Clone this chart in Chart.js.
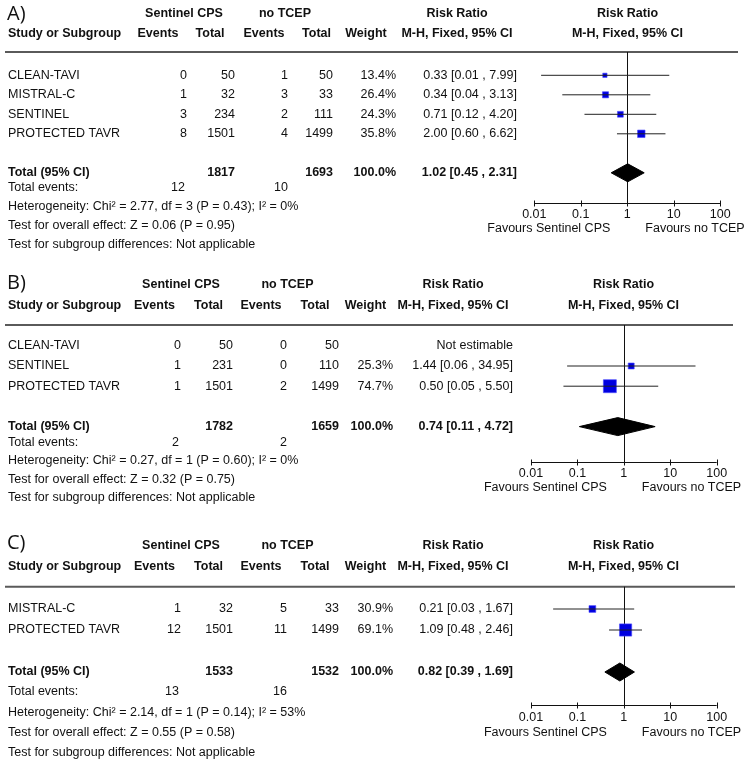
<!DOCTYPE html>
<html>
<head>
<meta charset="utf-8">
<title>Forest plots</title>
<script src="https://cdn.jsdelivr.net/npm/chart.js@4.4.1/dist/chart.umd.min.js"></script>
<style>
  body { margin: 0; background: #fff; }
  #wrap { position: relative; width: 745px; height: 764px; }
  canvas { position: absolute; left: 0; }
</style>
</head>
<body>
<div id="wrap">
  <canvas id="panel-a" width="745" height="258" style="top:0px"></canvas>
  <canvas id="panel-b" width="745" height="257" style="top:258px"></canvas>
  <canvas id="panel-c" width="745" height="249" style="top:515px"></canvas>
</div>
<script>
/* shared labels */
const groupHeads = ['Sentinel CPS', 'no TCEP'];
const colHeads = ['Study or Subgroup', 'Events', 'Total', 'Events', 'Total', 'Weight'];
const rrHeads = ['Risk Ratio', 'M-H, Fixed, 95% CI'];
const tickVals = [0.01, 0.1, 1, 10, 100];
const tickLabels = ['0.01', '0.1', '1', '10', '100'];
const favours = ['Favours Sentinel CPS', 'Favours no TCEP'];

/* panel A */
const studiesA = ['CLEAN-TAVI', 'MISTRAL-C', 'SENTINEL', 'PROTECTED TAVR'];
const evSentA = [0, 1, 3, 8];
const totSentA = [50, 32, 234, 1501];
const evNoA = [1, 3, 2, 4];
const totNoA = [50, 33, 111, 1499];
const weightA = [13.4, 26.4, 24.3, 35.8];
const rrA = [0.33, 0.34, 0.71, 2.00];
const loA = [0.014, 0.04, 0.12, 0.60];
const hiA = [7.99, 3.13, 4.20, 6.62];
const pooledA = [1.02, 0.45, 2.31];
const sumTotA = [1817, 1693];
const sumEvA = [12, 10];
const statsA = ['Heterogeneity: Chi² = 2.77, df = 3 (P = 0.43); I² = 0%',
                'Test for overall effect: Z = 0.06 (P = 0.95)',
                'Test for subgroup differences: Not applicable'];

/* panel B */
const studiesB = ['CLEAN-TAVI', 'SENTINEL', 'PROTECTED TAVR'];
const evSentB = [0, 1, 1];
const totSentB = [50, 231, 1501];
const evNoB = [0, 0, 2];
const totNoB = [50, 110, 1499];
const weightB = [null, 25.3, 74.7];
const rrB = [null, 1.44, 0.50];
const loB = [null, 0.06, 0.05];
const hiB = [null, 34.95, 5.50];
const pooledB = [0.74, 0.11, 4.72];
const sumTotB = [1782, 1659];
const sumEvB = [2, 2];
const statsB = ['Heterogeneity: Chi² = 0.27, df = 1 (P = 0.60); I² = 0%',
                'Test for overall effect: Z = 0.32 (P = 0.75)',
                'Test for subgroup differences: Not applicable'];

/* panel C */
const studiesC = ['MISTRAL-C', 'PROTECTED TAVR'];
const evSentC = [1, 12];
const totSentC = [32, 1501];
const evNoC = [5, 11];
const totNoC = [33, 1499];
const weightC = [30.9, 69.1];
const rrC = [0.21, 1.09];
const loC = [0.03, 0.48];
const hiC = [1.67, 2.46];
const pooledC = [0.82, 0.39, 1.69];
const sumTotC = [1533, 1532];
const sumEvC = [13, 16];
const statsC = ['Heterogeneity: Chi² = 2.14, df = 1 (P = 0.14); I² = 53%',
                'Test for overall effect: Z = 0.55 (P = 0.58)',
                'Test for subgroup differences: Not applicable'];

const FONT = '"Liberation Sans", Arial, sans-serif';
const FS = 12.5;

// page geometry for each panel (y values are page coordinates)
const colsA = { name: 8, ev1: 187, tot1: 235, ev2: 288, tot2: 333, wt: 396, rr: 517 };
const hdrA = { sent: 184, no: 285, ev1: 158, tot1: 210, ev2: 264, tot2: 316.5, wt: 366, rr: 457, plot: 627.5 };
const colsBC = { name: 8, ev1: 181, tot1: 233, ev2: 287, tot2: 339, wt: 393, rr: 513 };
const hdrBC = { sent: 181, no: 287.5, ev1: 154.5, tot1: 208.5, ev2: 261, tot2: 315, wt: 365.5, rr: 453, plot: 623.5 };

const panels = [
  { id: 'panel-a', label: 'A)', studies: studiesA, evSent: evSentA, totSent: totSentA, evNo: evNoA, totNo: totNoA,
    weight: weightA, rr: rrA, lo: loA, hi: hiA, pooled: pooledA, sumTot: sumTotA, sumEv: sumEvA, stats: statsA,
    g: { top: 0, h: 258, labelY: 14, head1: 13.5, head2: 33.5, sep: 52, sepR: 738, row0: 75.3, step: 19.5,
         foot0: 188, footStep: 19, axis: 202.7, x0: 534.3, x1: 720.3, tickDy: 12, favDy: 25.5, cols: colsA, hdr: hdrA } },
  { id: 'panel-b', label: 'B)', studies: studiesB, evSent: evSentB, totSent: totSentB, evNo: evNoB, totNo: totNoB,
    weight: weightB, rr: rrB, lo: loB, hi: hiB, pooled: pooledB, sumTot: sumTotB, sumEv: sumEvB, stats: statsB,
    g: { top: 258, h: 257, labelY: 283, head1: 285, head2: 305.7, sep: 325, sepR: 733, row0: 345.8, step: 20.2,
         foot0: 442.5, footStep: 18.3, axis: 461.7, x0: 531, x1: 716.7, tickDy: 11.5, favDy: 25.5, cols: colsBC, hdr: hdrBC } },
  { id: 'panel-c', label: 'C)', studies: studiesC, evSent: evSentC, totSent: totSentC, evNo: evNoC, totNo: totNoC,
    weight: weightC, rr: rrC, lo: loC, hi: hiC, pooled: pooledC, sumTot: sumTotC, sumEv: sumEvC, stats: statsC,
    g: { top: 515, h: 249, labelY: 543, head1: 545.7, head2: 566.7, sep: 586.7, sepR: 735, row0: 609, step: 21,
         foot0: 692, footStep: 20.3, axis: 705, x0: 531, x1: 716.7, tickDy: 13, favDy: 27.5, cols: colsBC, hdr: hdrBC } }
];

function rrText(r, l, h)
{
  return r.toFixed(2) + ' [' + l.toFixed(2) + ' , ' + h.toFixed(2) + ']';
}

function txt(ctx, s, x, y, align, bold, size, family)
{
  ctx.font = (bold ? 'bold ' : '') + (size || FS) + 'px ' + (family || FONT);
  ctx.textAlign = align;
  ctx.textBaseline = 'middle';
  ctx.fillStyle = '#111';
  ctx.fillText(String(s), x, y);
}

function makeDatasets(p)
{
  let sets = [];
  // confidence interval whiskers
  p.rr.forEach((v, i) => {
    if (v == null) return;
    sets.push({
      showLine: true,
      data: [{ x: p.lo[i], y: i }, { x: p.hi[i], y: i }],
      borderColor: '#222', borderWidth: 1, pointRadius: 0, clip: false
    });
  });
  // study squares, size follows weight
  let pts = [], radii = [];
  p.rr.forEach((v, i) => {
    if (v == null) return;
    pts.push({ x: v, y: i });
    radii.push((2.4 + 0.142 * p.weight[i]) / Math.SQRT2);
  });
  sets.push({
    showLine: false, data: pts, pointStyle: 'rect', pointRadius: radii,
    pointBackgroundColor: '#0000e0', pointBorderColor: '#4a4aff', pointBorderWidth: 0.6, clip: false
  });
  // pooled diamond
  const t = p.studies.length + 1;
  const dh = 9 / p.g.step;
  const pr = p.pooled;
  sets.push({
    showLine: true,
    data: [{ x: pr[1], y: t }, { x: pr[0], y: t - dh }, { x: pr[2], y: t }, { x: pr[0], y: t + dh }, { x: pr[1], y: t }],
    fill: 'shape', backgroundColor: '#000', borderColor: '#000', borderWidth: 1, pointRadius: 0, clip: false
  });
  return sets;
}

function makeTablePlugin(p)
{
  return {
    id: 'forestTable',
    beforeDatasetsDraw(chart) {
      const ctx = chart.ctx, g = p.g, xs = chart.scales.x, area = chart.chartArea;
      ctx.save();
      // header rule
      ctx.strokeStyle = '#5a5a5a';
      ctx.lineWidth = 2;
      ctx.beginPath();
      ctx.moveTo(5, g.sep - g.top);
      ctx.lineTo(g.sepR, g.sep - g.top);
      ctx.stroke();
      // line of no effect
      const x1 = Math.round(xs.getPixelForValue(1)) + 0.5;
      ctx.strokeStyle = '#111';
      ctx.lineWidth = 1;
      ctx.beginPath();
      ctx.moveTo(x1, area.top);
      ctx.lineTo(x1, area.bottom);
      ctx.stroke();
      // axis
      const ay = Math.round(area.bottom) + 0.5;
      ctx.beginPath();
      ctx.moveTo(xs.getPixelForValue(tickVals[0]), ay);
      ctx.lineTo(xs.getPixelForValue(tickVals[tickVals.length - 1]), ay);
      tickVals.forEach(v => {
        const tx = Math.round(xs.getPixelForValue(v)) + 0.5;
        ctx.moveTo(tx, ay - 3);
        ctx.lineTo(tx, ay + 3);
      });
      ctx.stroke();
      ctx.restore();
    },
    afterDraw(chart) {
      const ctx = chart.ctx, g = p.g, c = g.cols, h = g.hdr;
      const xs = chart.scales.x, ys = chart.scales.y;
      const T = g.top;
      ctx.save();
      txt(ctx, p.label, 7, g.labelY - T, 'left', false, 20, '"Open Sans", ' + FONT);
      txt(ctx, groupHeads[0], h.sent, g.head1 - T, 'center', true);
      txt(ctx, groupHeads[1], h.no, g.head1 - T, 'center', true);
      txt(ctx, rrHeads[0], h.rr, g.head1 - T, 'center', true);
      txt(ctx, rrHeads[0], h.plot, g.head1 - T, 'center', true);
      txt(ctx, colHeads[0], c.name, g.head2 - T, 'left', true);
      txt(ctx, colHeads[1], h.ev1, g.head2 - T, 'center', true);
      txt(ctx, colHeads[2], h.tot1, g.head2 - T, 'center', true);
      txt(ctx, colHeads[3], h.ev2, g.head2 - T, 'center', true);
      txt(ctx, colHeads[4], h.tot2, g.head2 - T, 'center', true);
      txt(ctx, colHeads[5], h.wt, g.head2 - T, 'center', true);
      txt(ctx, rrHeads[1], h.rr, g.head2 - T, 'center', true);
      txt(ctx, rrHeads[1], h.plot, g.head2 - T, 'center', true);

      // study rows
      p.studies.forEach((s, i) => {
        const y = ys.getPixelForValue(i);
        txt(ctx, s, c.name, y, 'left');
        txt(ctx, p.evSent[i], c.ev1, y, 'right');
        txt(ctx, p.totSent[i], c.tot1, y, 'right');
        txt(ctx, p.evNo[i], c.ev2, y, 'right');
        txt(ctx, p.totNo[i], c.tot2, y, 'right');
        if (p.rr[i] == null) {
          txt(ctx, 'Not estimable', c.rr, y, 'right');
        } else {
          txt(ctx, p.weight[i].toFixed(1) + '%', c.wt, y, 'right');
          txt(ctx, rrText(p.rr[i], p.lo[i], p.hi[i]), c.rr, y, 'right');
        }
      });

      // total row
      const ty = ys.getPixelForValue(p.studies.length + 1);
      txt(ctx, 'Total (95% CI)', c.name, ty, 'left', true);
      txt(ctx, p.sumTot[0], c.tot1, ty, 'right', true);
      txt(ctx, p.sumTot[1], c.tot2, ty, 'right', true);
      txt(ctx, '100.0%', c.wt, ty, 'right', true);
      txt(ctx, rrText(p.pooled[0], p.pooled[1], p.pooled[2]), c.rr, ty, 'right', true);

      // footer
      let fy = g.foot0 - T;
      txt(ctx, 'Total events:', c.name, fy, 'left');
      txt(ctx, p.sumEv[0], c.ev1 - 2, fy, 'right');
      txt(ctx, p.sumEv[1], c.ev2, fy, 'right');
      p.stats.forEach((s, k) => {
        txt(ctx, s, c.name, fy + (k + 1) * g.footStep, 'left');
      });

      // axis labels
      const ay = chart.chartArea.bottom;
      tickVals.forEach((v, k) => {
        txt(ctx, tickLabels[k], xs.getPixelForValue(v), ay + g.tickDy, 'center');
      });
      const x1 = xs.getPixelForValue(1);
      txt(ctx, favours[0], x1 - 17, ay + g.favDy, 'right');
      txt(ctx, favours[1], x1 + 18, ay + g.favDy, 'left');
      ctx.restore();
    }
  };
}

function drawPanel(p)
{
  const g = p.g;
  const ctx = document.getElementById(p.id).getContext('2d');
  return new Chart(ctx, {
    type: 'scatter',
    data: { datasets: makeDatasets(p) },
    options: {
      responsive: false,
      animation: false,
      events: [],
      layout: {
        padding: { left: g.x0, right: 745 - g.x1, top: g.sep - g.top, bottom: g.top + g.h - g.axis }
      },
      scales: {
        x: { type: 'logarithmic', min: 0.01, max: 100, display: false },
        y: { type: 'linear', reverse: true, display: false,
             min: (g.sep - g.row0) / g.step, max: (g.axis - g.row0) / g.step }
      },
      plugins: { legend: { display: false }, tooltip: { enabled: false } }
    },
    plugins: [makeTablePlugin(p)]
  });
}

panels.forEach(drawPanel);
</script>
</body>
</html>
